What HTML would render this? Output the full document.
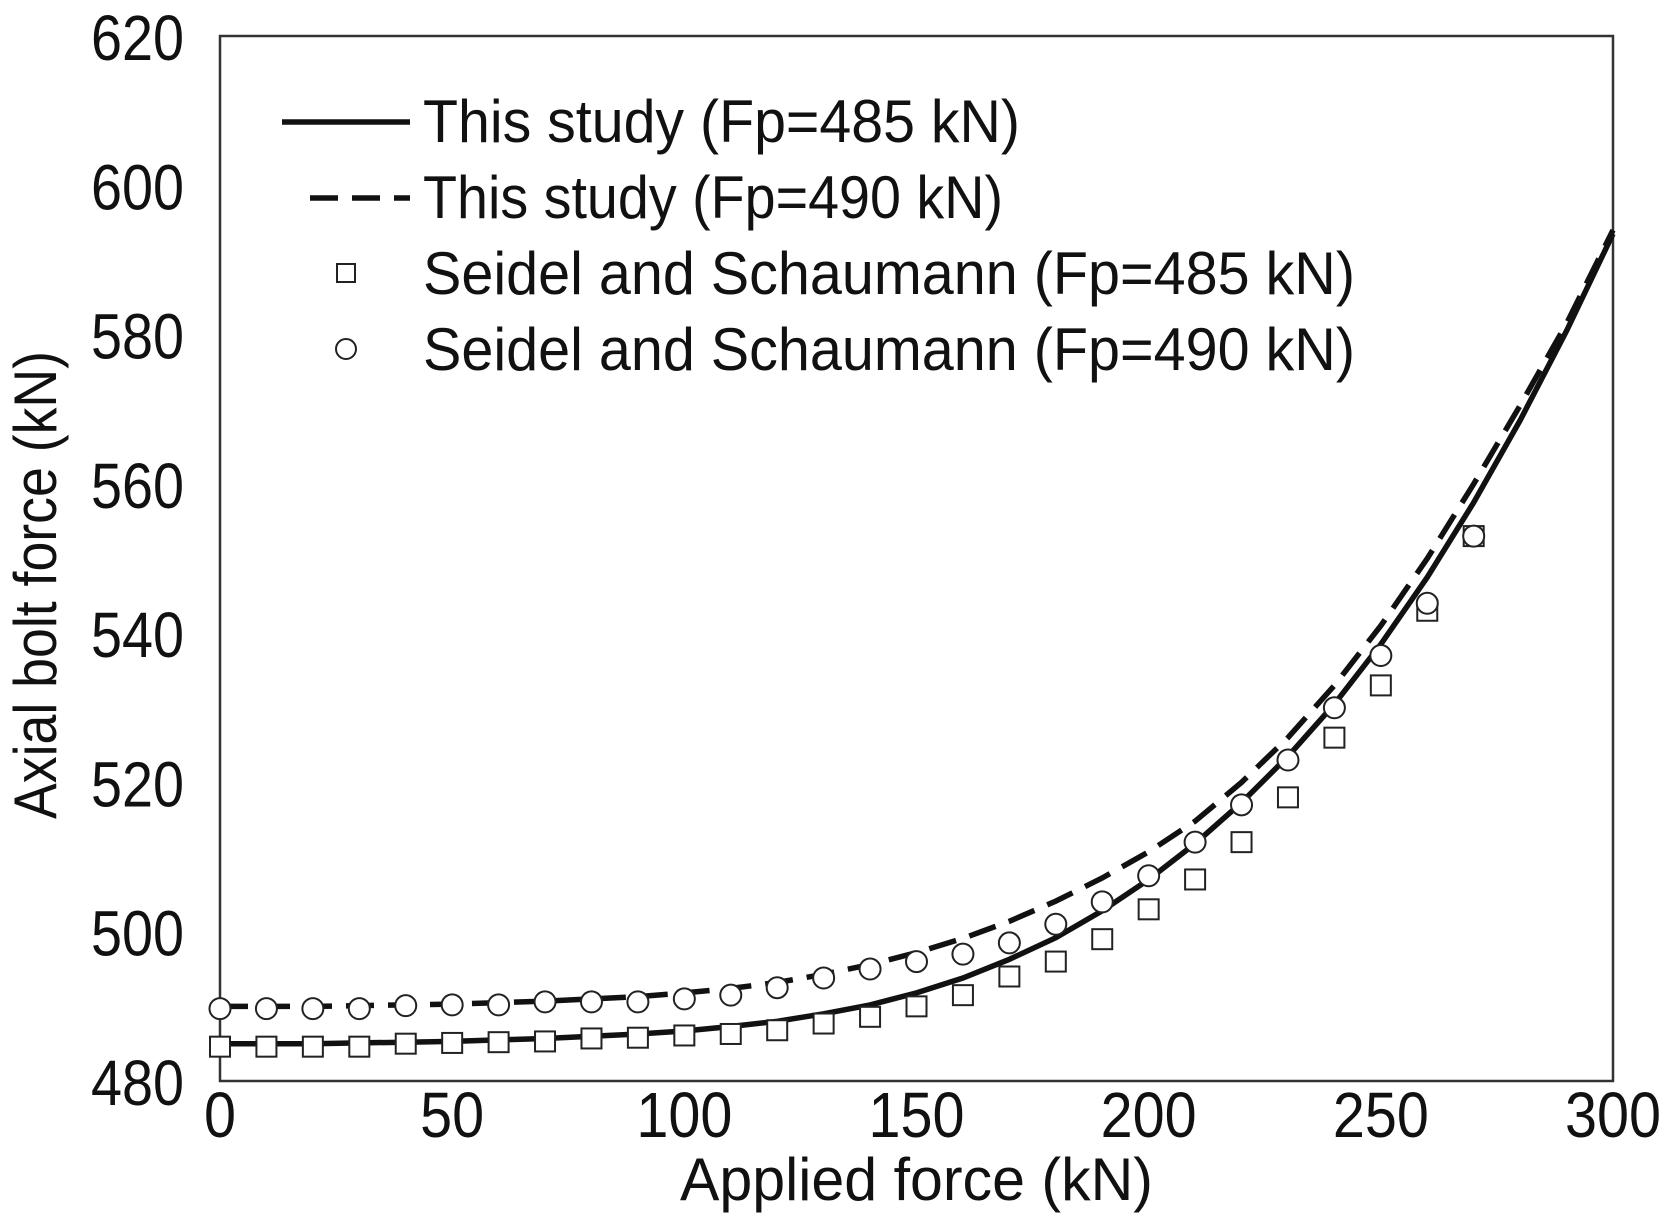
<!DOCTYPE html>
<html><head><meta charset="utf-8"><style>
html,body{margin:0;padding:0;background:#fff;}
svg{display:block;font-family:"Liberation Sans",sans-serif;}
</style></head><body>
<svg id="chart" width="1666" height="1220" viewBox="0 0 1666 1220">
<g id="plot"></g>
</svg>
<script>
const xCats=[0,10,20,30,40,50,60,70,80,90,100,110,120,130,140,150,160,170,180,190,200,210,220,230,240,250,260,270];
const sq485=[484.6,484.6,484.6,484.6,485,485.1,485.2,485.3,485.7,485.8,486.1,486.3,486.8,487.7,488.6,490,491.5,494,496,499,503,507,512,518,526,533,543,553];
const ci490=[489.7,489.7,489.7,489.7,490.1,490.2,490.2,490.6,490.6,490.6,491,491.5,492.5,493.8,495,496,497,498.5,501,504,507.5,512,517,523,530,537,544,553];
const lineX=[0,10,20,30,40,50,60,70,80,90,100,110,120,130,140,150,160,170,180,190,200,210,220,230,240,250,260,270,280,290,300];
const solid485=[485,485,485,485.1,485.2,485.3,485.5,485.7,486,486.3,486.7,487.3,488,489,490.2,491.8,493.8,496.3,499.2,502.8,507,511.8,517.3,523.5,530.5,538.5,547.5,557.5,568.5,580.5,593.5];
const dash490=[490,490,490,490.1,490.2,490.3,490.5,490.7,491,491.3,491.8,492.4,493.2,494.3,495.6,497.2,499.1,501.4,504.1,507.2,510.7,514.8,520,526,533,541,550,560,570.5,581.5,594];
const xTicks=[0,50,100,150,200,250,300];
const yTicks=[480,500,520,540,560,580,600,620];
const legendLabels=["This study (Fp=485 kN)","This study (Fp=490 kN)","Seidel and Schaumann (Fp=485 kN)","Seidel and Schaumann (Fp=490 kN)"];
const legendWidths=[597,580,932,932];

const L=220,R=1613,T=36,B=1081;
const sx=v=>L+(v-0)/(300-0)*(R-L);
const sy=v=>B-(v-480)/(620-480)*(B-T);
const NS="http://www.w3.org/2000/svg";
const g=document.getElementById('plot');
function mk(tag,attrs,parent){const e=document.createElementNS(NS,tag);for(const k in attrs)e.setAttribute(k,attrs[k]);(parent||g).appendChild(e);return e;}

const frame=mk('rect',{x:L,y:T,width:R-L,height:B-T,fill:'none',stroke:'#333',"stroke-width":2.5});



xTicks.forEach(v=>{
  const s=String(v);
  const t=mk('text',{x:sx(v),y:1137,"text-anchor":'middle',"font-size":64,fill:'#111',textLength:s.length*32,lengthAdjust:'spacingAndGlyphs'});
  t.textContent=s;
  
  
});
yTicks.forEach(v=>{
  const t=mk('text',{x:184,y:sy(v)+24,"text-anchor":'end',"font-size":64,fill:'#111',textLength:93,lengthAdjust:'spacingAndGlyphs'});
  t.textContent=v;
  
  
});
const xt=mk('text',{x:(L+R)/2,y:1200,"text-anchor":'middle',"font-size":60,fill:'#111',textLength:473,lengthAdjust:'spacingAndGlyphs'});
xt.textContent='Applied force (kN)';


const yt=mk('text',{x:0,y:0,"text-anchor":'middle',"font-size":60,fill:'#111',textLength:468,lengthAdjust:'spacingAndGlyphs',transform:'translate(56,585) rotate(-90)'});
yt.textContent='Axial bolt force (kN)';



function pathFrom(xs,ys){return xs.map((x,i)=>(i?'L':'M')+sx(x).toFixed(1)+','+sy(ys[i]).toFixed(1)).join(' ');}
const ls=mk('path',{d:pathFrom(lineX,solid485),fill:'none',stroke:'#111',"stroke-width":5.5});


const ld=mk('path',{d:pathFrom(lineX,dash490),fill:'none',stroke:'#111',"stroke-width":5.5,"stroke-dasharray":'28 14'});



xCats.forEach((x,i)=>{
  const r=mk('rect',{x:sx(x)-10,y:sy(sq485[i])-10,width:20,height:20,fill:'#fff',stroke:'#222',"stroke-width":2});
  
  
});
xCats.forEach((x,i)=>{
  const c=mk('circle',{cx:sx(x),cy:sy(ci490[i]),r:10.5,fill:'#fff',stroke:'#222',"stroke-width":2});
  
  
});

const lg=mk('g',{});


const rows=[122,198,274,350];
const l1=mk('line',{x1:282,x2:410,y1:rows[0],y2:rows[0],stroke:'#111',"stroke-width":5.5},lg);


const l2=mk('line',{x1:310,x2:410,y1:rows[1],y2:rows[1],stroke:'#111',"stroke-width":5.5,"stroke-dasharray":'28 14'},lg);


const l3=mk('rect',{x:337,y:rows[2]-10,width:18,height:18,fill:'#fff',stroke:'#222',"stroke-width":2},lg);


const l4=mk('circle',{cx:346,cy:rows[3]-1,r:10,fill:'#fff',stroke:'#222',"stroke-width":2},lg);


legendLabels.forEach((s,i)=>{
  const t=mk('text',{x:423,y:rows[i]+20,"font-size":60,fill:'#111',textLength:legendWidths[i],lengthAdjust:'spacingAndGlyphs'},lg);
  t.textContent=s;
  
  
});
</script>
</body></html>
